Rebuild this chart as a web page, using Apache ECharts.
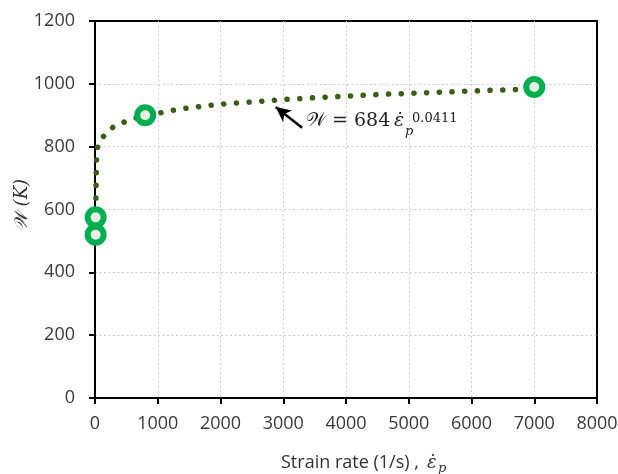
<!DOCTYPE html>
<html lang="en">
<head>
    <meta charset="utf-8">
    <script src="https://cdn.jsdelivr.net/npm/echarts@6/dist/echarts.min.js"></script>
    <style>
        html, body { margin: 0; padding: 0; background: #fff; }
        #chart { width: 618px; height: 474px; }
    </style>
</head>
<body>
<div id="chart"></div>

<script type="text/javascript">
    // ticks
    var xTicks = [0, 1000, 2000, 3000, 4000, 5000, 6000, 7000, 8000];
    var yTicks = [0, 200, 400, 600, 800, 1000, 1200];

    // measured points (green rings)
    var expRate = [10, 10, 800, 7000];
    var expW = [520, 575, 900, 990];

    // fitted curve
    var fitRate = [8, 12, 18, 25, 45, 143, 287, 462, 653, 824, 1020, 1227, 1402, 1610, 1801, 2008,
        2199, 2406, 2598, 2805, 2996, 3203, 3394, 3618, 3809, 4016, 4207, 4414, 4606, 4813, 5004,
        5211, 5418, 5625, 5817, 6024, 6215, 6422, 6629, 6837, 7000];
    var fitW = [515, 600, 700, 770, 805, 835, 862, 878, 891, 901, 907, 915, 921, 926, 931, 935,
        938, 941, 944, 947, 950, 952, 955, 957, 959, 961, 963, 965, 967, 968, 970,
        971, 973, 974, 976, 977, 979, 980, 981, 983, 984];

    var chart = echarts.init(document.getElementById('chart'));
    var labelFont = '"Open Sans", "Liberation Sans", sans-serif';
    var mathFont = '"DejaVu Serif", "Liberation Serif", serif';
    var gridDots = {color: '#cdcdcd', type: [2, 2.5], width: 1};

    var option = {
        animation: false,
        backgroundColor: '#fff',
        grid: {
            left: 95, right: 21, top: 21, bottom: 76,
            outerBoundsMode: 'none',
            show: true,
            borderColor: '#000',
            borderWidth: 2
        },
        xAxis: {
            type: 'value',
            min: xTicks[0],
            max: xTicks[xTicks.length - 1],
            interval: 1000,
            axisLine: {lineStyle: {color: '#000', width: 2}},
            axisTick: {show: true, length: 6, lineStyle: {color: '#000', width: 2}},
            axisLabel: {color: '#3a3a3a', fontSize: 18, fontFamily: labelFont, margin: 17,
                formatter: function (v) { return String(v); }},
            splitLine: {show: true, showMinLine: false, showMaxLine: false, lineStyle: gridDots}
        },
        yAxis: {
            type: 'value',
            min: yTicks[0],
            max: yTicks[yTicks.length - 1],
            interval: 200,
            axisLine: {show: true, lineStyle: {color: '#000', width: 2}},
            axisTick: {show: true, length: 6, lineStyle: {color: '#000', width: 2}},
            axisLabel: {color: '#3a3a3a', fontSize: 18, fontFamily: labelFont, margin: 20,
                formatter: function (v) { return String(v); }},
            splitLine: {show: true, showMinLine: false, showMaxLine: false, lineStyle: gridDots}
        },
        series: [{
            name: 'fit',
            type: 'line',
            data: fitRate.map(function (r, i) { return [r, fitW[i]]; }),
            showSymbol: false,
            smooth: false,
            lineStyle: {color: '#3b5e17', width: 5.5, type: [0.1, 12.6], cap: 'round'},
            z: 2,
            markLine: {
                silent: true,
                symbol: ['none', 'arrow'],
                symbolSize: [11, 15],
                label: {show: false},
                lineStyle: {color: '#000', width: 2.5, type: 'solid'},
                data: [[{coord: [3300, 860]}, {coord: [2880, 926]}]]
            }
        }, {
            name: 'measured',
            type: 'scatter',
            data: expRate.map(function (r, i) { return [r, expW[i]]; }),
            symbol: 'circle',
            symbolSize: 16,
            itemStyle: {color: '#e8eee2', borderColor: '#00b050', borderWidth: 6, opacity: 1},
            z: 3
        }],
        graphic: [
            // y axis name
            {
                type: 'text', x: 22, y: 205, rotation: Math.PI / 2,
                style: {text: '\u{1D4B2} (K)', font: 'italic 18px ' + mathFont, fill: '#333',
                    textAlign: 'center', textVerticalAlign: 'middle'}
            },
            // x axis name
            {
                type: 'text', x: 281, y: 463,
                style: {text: 'Strain rate (1/s) ,', font: '18px ' + labelFont, fill: '#333',
                    textAlign: 'left', textVerticalAlign: 'middle'}
            },
            {
                type: 'text', x: 427, y: 463,
                style: {text: '\u03b5\u0307', font: 'italic 18px ' + mathFont, fill: '#333',
                    textAlign: 'left', textVerticalAlign: 'middle'}
            },
            {
                type: 'text', x: 438, y: 469,
                style: {text: 'p', font: 'italic 13px ' + mathFont, fill: '#333',
                    textAlign: 'left', textVerticalAlign: 'middle'}
            },
            // fit equation
            {
                type: 'text', x: 306, y: 131,
                style: {text: '\u{1D4B2} = 684', font: '19px ' + mathFont, fill: '#222',
                    textAlign: 'left', textVerticalAlign: 'bottom'}
            },
            {
                type: 'text', x: 394, y: 131,
                style: {text: '\u03b5\u0307', font: 'italic 19px ' + mathFont, fill: '#222',
                    textAlign: 'left', textVerticalAlign: 'bottom'}
            },
            {
                type: 'text', x: 405, y: 138,
                style: {text: 'p', font: 'italic 13px ' + mathFont, fill: '#222',
                    textAlign: 'left', textVerticalAlign: 'bottom'}
            },
            {
                type: 'text', x: 412, y: 125,
                style: {text: '0.0411', font: '13px ' + mathFont, fill: '#222',
                    textAlign: 'left', textVerticalAlign: 'bottom'}
            }
        ]
    };

    chart.setOption(option);
</script>
</body>
</html>
